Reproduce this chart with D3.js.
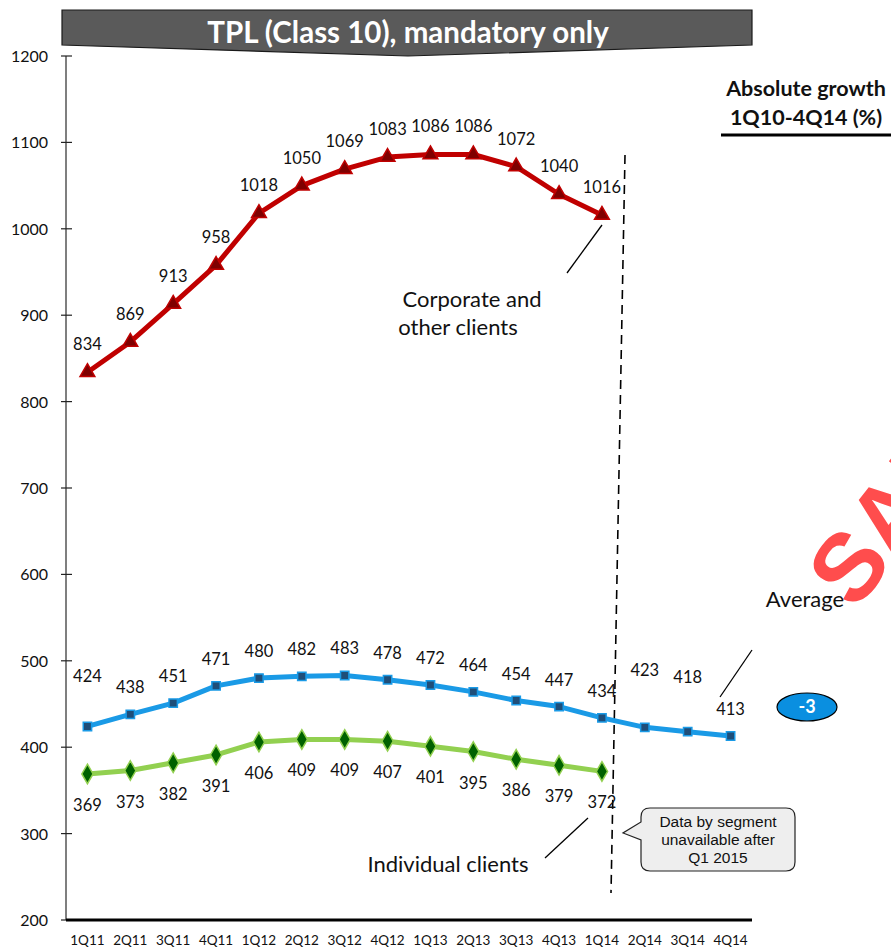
<!DOCTYPE html>
<html>
<head>
<meta charset="utf-8">
<script src="https://cdn.jsdelivr.net/npm/d3@7"></script>
<style>
  html, body { margin: 0; padding: 0; background: #fff; }
  svg { display: block; }
  svg { font-family: Lato, "Open Sans", "Liberation Sans", sans-serif; }
</style>
</head>
<body>
<svg id="chart" width="891" height="949"></svg>
<script>
// Quarterly TPL (Class 10) mandatory-only figures
const quarters = ["1Q11","2Q11","3Q11","4Q11","1Q12","2Q12","3Q12","4Q12","1Q13","2Q13","3Q13","4Q13","1Q14","2Q14","3Q14","4Q14"];
const corporate = [834, 869, 913, 958, 1018, 1050, 1069, 1083, 1086, 1086, 1072, 1040, 1016];
const average = [424, 438, 451, 471, 480, 482, 483, 478, 472, 464, 454, 447, 434, 423, 418, 413];
const individual = [369, 373, 382, 391, 406, 409, 409, 407, 401, 395, 386, 379, 372];
const yTicks = [200, 300, 400, 500, 600, 700, 800, 900, 1000, 1100, 1200];
const growthBadge = "-3";

const svg = d3.select("#chart");

const x = d3.scaleBand().domain(quarters).range([66, 752]);
const cx = q => x(q) + x.bandwidth() / 2;
const y = d3.scaleLinear().domain([200, 1200]).range([920, 56]);

// Title banner
svg.append("path")
  .attr("d", "M62,10 L752,10 L752,45 L408,56 L62,45 Z")
  .attr("fill", "#5a5a5a")
  .attr("stroke", "#1a1a1a")
  .attr("stroke-width", 1.2);
svg.append("text")
  .attr("x", 408).attr("y", 43)
  .attr("text-anchor", "middle")
  .attr("fill", "#fff")
  .attr("font-weight", "bold")
  .attr("font-size", 29.5)
  .text("TPL (Class 10), mandatory only");

// Watermark
svg.append("text")
  .attr("transform", "translate(855,612) rotate(-52)")
  .attr("fill", "#ff4d4d")
  .style("font-family", "'Liberation Sans', Arial, sans-serif")
  .attr("font-weight", "bold")
  .attr("font-size", 96)
  .text("SAMPLE");

// Y axis
const yAxis = svg.append("g").attr("transform", "translate(66,0)");
yAxis.append("line")
  .attr("x1", 0).attr("x2", 0)
  .attr("y1", y(1200)).attr("y2", y(200))
  .attr("stroke", "#7f7f7f").attr("stroke-width", 2);
yAxis.selectAll(".tick")
  .data(yTicks)
  .join("line")
  .attr("x1", -5).attr("x2", 6)
  .attr("y1", d => y(d)).attr("y2", d => y(d))
  .attr("stroke", "#222").attr("stroke-width", 1.2);
yAxis.selectAll(".ylab")
  .data(yTicks)
  .join("text")
  .attr("x", -18).attr("y", d => y(d) + 6)
  .attr("text-anchor", "end")
  .attr("font-size", 16)
  .attr("fill", "#111")
  .text(d => d);

// X axis
svg.append("line")
  .attr("x1", 66).attr("x2", 752)
  .attr("y1", y(200)).attr("y2", y(200))
  .attr("stroke", "#000").attr("stroke-width", 3);
svg.selectAll(".xlab")
  .data(quarters)
  .join("text")
  .attr("x", d => cx(d)).attr("y", 945)
  .attr("text-anchor", "middle")
  .attr("font-size", 13.5)
  .attr("fill", "#111")
  .text(d => d);

// Vertical dashed divider
svg.append("line")
  .attr("x1", 625).attr("y1", 155)
  .attr("x2", 611).attr("y2", 893)
  .attr("stroke", "#000").attr("stroke-width", 1.6)
  .attr("stroke-dasharray", "9,6");

const line = d3.line().x((d, i) => cx(quarters[i])).y(d => y(d));

function drawSeries(values, color, symbolType, size, fill, stroke) {
  svg.append("path")
    .datum(values)
    .attr("d", line)
    .attr("fill", "none")
    .attr("stroke", color)
    .attr("stroke-width", 5)
    .attr("stroke-linejoin", "round");
  svg.selectAll(null)
    .data(values)
    .join("path")
    .attr("transform", (d, i) => `translate(${cx(quarters[i])},${y(d)})`)
    .attr("d", d3.symbol().type(symbolType).size(size))
    .attr("fill", fill)
    .attr("stroke", stroke)
    .attr("stroke-width", 1.5);
}

drawSeries(corporate, "#c00000", d3.symbolTriangle, 95, "#7f0000", "#c00000");
drawSeries(average, "#1a9ae6", d3.symbolSquare, 70, "#1f4e79", "#1a9ae6");
drawSeries(individual, "#92d050", d3.symbolDiamond, 110, "#006100", "#92d050");

// Value labels
function labels(values, dyFor) {
  svg.selectAll(null)
    .data(values)
    .join("text")
    .attr("x", (d, i) => cx(quarters[i]))
    .attr("y", (d, i) => y(d) + dyFor(i))
    .attr("text-anchor", "middle")
    .attr("font-size", 16.5)
    .attr("fill", "#111")
    .text(d => d);
}
labels(corporate, () => -22);
const avgRaised = { 0: -44, 13: -51, 14: -49 };
labels(average, i => (i in avgRaised ? avgRaised[i] : -21));
labels(individual, () => 37);

// Series annotations with leader lines
const leaders = [
  [567, 273, 602, 225],
  [720, 697, 752, 650],
  [545, 858, 588, 818]
];
svg.selectAll(".leader")
  .data(leaders)
  .join("line")
  .attr("x1", d => d[0]).attr("y1", d => d[1])
  .attr("x2", d => d[2]).attr("y2", d => d[3])
  .attr("stroke", "#000").attr("stroke-width", 1.3);

const note = (txt, xx, yy) => svg.append("text")
  .attr("x", xx).attr("y", yy)
  .attr("text-anchor", "middle")
  .attr("font-size", 22)
  .attr("fill", "#111")
  .text(txt);
note("Corporate and", 472, 307);
note("other clients", 458, 335);
note("Average", 805, 607);
note("Individual clients", 448, 872);

// Callout box
svg.append("path")
  .attr("d", "M650,808 L786,808 Q795,808 795,817 L795,862 Q795,871 786,871 L650,871 Q641,871 641,862 L641,840 L623,833 L641,822 L641,817 Q641,808 650,808 Z")
  .attr("fill", "#eeeeee")
  .attr("stroke", "#222")
  .attr("stroke-width", 1.2);
["Data by segment", "unavailable after", "Q1 2015"].forEach((t, i) => {
  svg.append("text")
    .attr("x", 718).attr("y", 827 + i * 18)
    .attr("text-anchor", "middle")
    .style("font-family", "'Liberation Sans', Arial, sans-serif")
    .attr("font-size", 15.5)
    .attr("fill", "#111")
    .text(t);
});

// Absolute growth header
["Absolute growth", "1Q10-4Q14 (%)"].forEach((t, i) => {
  svg.append("text")
    .attr("x", 806).attr("y", 96 + i * 29)
    .attr("text-anchor", "middle")
    .attr("font-size", 21.5)
    .attr("font-weight", "bold")
    .attr("fill", "#111")
    .text(t);
});
svg.append("line")
  .attr("x1", 721).attr("x2", 891)
  .attr("y1", 135).attr("y2", 135)
  .attr("stroke", "#000").attr("stroke-width", 3);

// Growth badge
svg.append("ellipse")
  .attr("cx", 807).attr("cy", 707)
  .attr("rx", 30).attr("ry", 14)
  .attr("fill", "#0a8fe0")
  .attr("stroke", "#000").attr("stroke-width", 1.2);
svg.append("text")
  .attr("x", 807).attr("y", 713)
  .attr("text-anchor", "middle")
  .attr("font-size", 18)
  .attr("font-weight", "bold")
  .attr("fill", "#fff")
  .text(growthBadge);
</script>
</body>
</html>
